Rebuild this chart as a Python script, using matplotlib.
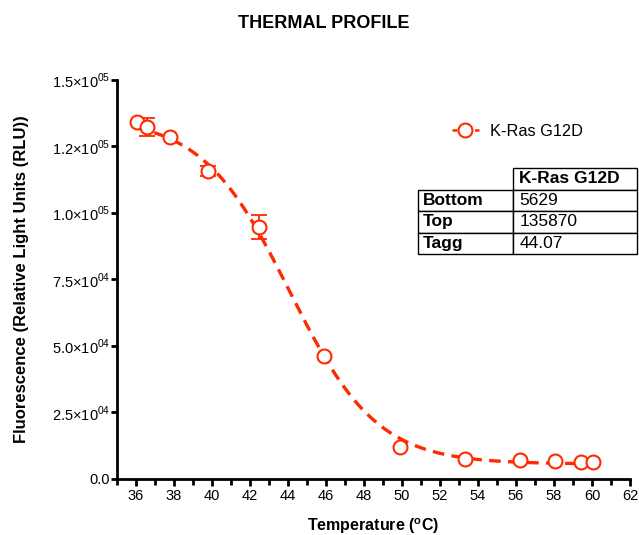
import numpy as np
import matplotlib
matplotlib.use("Agg")
import matplotlib.pyplot as plt
from matplotlib.lines import Line2D
from matplotlib.ticker import MultipleLocator, FixedLocator

plt.rcParams['font.family'] = ['Liberation Sans', 'DejaVu Sans']
plt.rcParams['mathtext.fontset'] = 'custom'
plt.rcParams['mathtext.rm'] = 'Liberation Sans'
plt.rcParams['mathtext.bf'] = 'Liberation Sans:bold'

# measured points
temps = [36.05, 36.6, 37.8, 39.8, 42.5, 45.9, 49.9, 53.3, 56.2, 58.05, 59.4, 60.05]
rlu = [134200, 132300, 128600, 115800, 94700, 46200, 12000, 7500, 7100, 6800, 6400, 6400]
rlu_err = [0, 3500, 0, 2000, 4500, 0, 0, 0, 0, 0, 0, 0]

# fit parameters (Boltzmann)
bottom = 5629
top = 135870
tagg = 44.07
slope = 2.3

series_name = 'K-Ras G12D'
ytick_vals = [0, 25000, 50000, 75000, 100000, 125000, 150000]
ytick_labels = ['0.0', r'2.5$\times$10$^{04}$', r'5.0$\times$10$^{04}$', r'7.5$\times$10$^{04}$',
                r'1.0$\times$10$^{05}$', r'1.2$\times$10$^{05}$', r'1.5$\times$10$^{05}$']

red = '#FF2A00'

fig = plt.figure(figsize=(6.39, 5.35), dpi=100)
ax = fig.add_axes([0.183, 0.1047, 0.803, 0.7458])

t_fit = np.linspace(36, 60, 300)
y_fit = bottom + (top - bottom) / (1 + np.exp((t_fit - tagg) / slope))
ax.plot(t_fit, y_fit, color=red, lw=2.4, ls=(0, (3.5, 2.2)), zorder=2)

ax.plot(temps, rlu, 'o', mfc='white', mec=red, mew=1.5, ms=10, zorder=3, ls='none')
t_arr = np.array(temps)
y_arr = np.array(rlu)
e_arr = np.array(rlu_err)
m = e_arr > 0
ax.errorbar(t_arr[m], y_arr[m], yerr=e_arr[m], fmt='none', ecolor=red, elinewidth=1.3,
            capsize=6, capthick=1.3, zorder=2.5)

ax.set_xlim(35, 62)
ax.set_ylim(0, 150000)
ax.xaxis.set_minor_locator(MultipleLocator(1))
ax.set_xticks(range(36, 63, 2))
ax.yaxis.set_major_locator(FixedLocator(ytick_vals))
ax.set_yticklabels(ytick_labels)

for s in ['top', 'right']:
    ax.spines[s].set_visible(False)
for s in ['left', 'bottom']:
    ax.spines[s].set_linewidth(2)
ax.tick_params(axis='x', which='major', width=2, length=5, labelsize=10.5, pad=2)
ax.tick_params(axis='x', which='minor', width=2, length=4)
ax.tick_params(axis='y', which='major', width=2, length=4, labelsize=10.5, pad=1)

ax.set_xlabel('Temperature ($\\mathbf{^{o}}$C)', fontsize=11.5, fontweight='bold', labelpad=10)
ax.set_ylabel('Fluorescence (Relative Light Units (RLU))', fontsize=12, fontweight='bold', labelpad=16)
fig.text(0.507, 0.957, 'THERMAL PROFILE', ha='center', va='center', fontsize=13, fontweight='bold')

handle = Line2D([], [], color=red, lw=1.8, ls=(0, (2, 1)), marker='o', mfc='white', mec=red, mew=1.5, ms=10)
ax.legend([handle], [series_name], loc='center left', bbox_to_anchor=(0.625, 0.872), frameon=False,
          fontsize=11.8, handlelength=1.6, handletextpad=0.7)

cells = [['', series_name], ['Bottom', str(bottom)], ['Top', str(top)], ['Tagg', f'{tagg:.2f}']]
tbl = ax.table(cellText=cells, cellLoc='left', colWidths=[0.434, 0.566],
               bbox=[0.587, 0.564, 0.426, 0.215])
tbl.auto_set_font_size(False)
for (r, c), cell in tbl.get_celld().items():
    cell.set_linewidth(1.0)
    cell.set_edgecolor('black')
    cell.PAD = 0.05
    txt = cell.get_text()
    txt.set_fontsize(12.5)
    if r == 0 or c == 0:
        txt.set_fontweight('bold')
    if r == 0 and c == 0:
        cell.visible_edges = 'open'
tbl.set_clip_on(False)

fig.savefig('out.png', dpi=100)
